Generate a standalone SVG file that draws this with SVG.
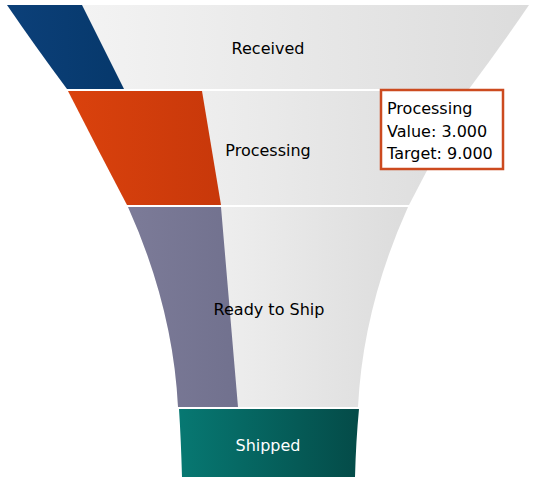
<svg xmlns="http://www.w3.org/2000/svg" width="542" height="493" viewBox="0 0 542 493">
<defs>
<linearGradient id="gLight" x1="0" y1="0" x2="1" y2="0">
<stop offset="0" stop-color="#f7f7f7"/>
<stop offset="1" stop-color="#dcdcdc"/>
</linearGradient>
<linearGradient id="gBlue" x1="0" y1="0" x2="1" y2="0">
<stop offset="0" stop-color="#0c4079"/>
<stop offset="1" stop-color="#06386b"/>
</linearGradient>
<linearGradient id="gOrange" x1="0" y1="0" x2="1" y2="0">
<stop offset="0" stop-color="#da420d"/>
<stop offset="1" stop-color="#c8380a"/>
</linearGradient>
<linearGradient id="gPurple" x1="0" y1="0" x2="1" y2="0">
<stop offset="0" stop-color="#7c7b98"/>
<stop offset="1" stop-color="#71718e"/>
</linearGradient>
<linearGradient id="gTeal" x1="0" y1="0" x2="1" y2="0">
<stop offset="0" stop-color="#077872"/>
<stop offset="1" stop-color="#044b48"/>
</linearGradient>
</defs>
<style>
.lbl{font-family:"DejaVu Sans","Verdana",sans-serif;font-size:16px;fill:#000;text-anchor:middle}
.tip{font-family:"DejaVu Sans","Verdana",sans-serif;font-size:16px;fill:#000}
</style>
<g id="received">
<path d="M7 5 Q35 46 67 89 L469 89 Q501 46 529 5 Z" fill="url(#gLight)"/>
<path d="M7 5 Q35 46 67 89 L124 89 L82 5 Z" fill="url(#gBlue)"/>
<text class="lbl" x="268" y="54">Received</text>
</g>
<g id="processing">
<path d="M68 91 Q97 148 127 205 L409 205 Q439 148 468 91 Z" fill="url(#gLight)"/>
<path d="M68 91 Q97 148 127 205 L221 205 L202 91 Z" fill="url(#gOrange)"/>
<text class="lbl" x="268" y="156">Processing</text>
</g>
<g id="ready">
<path d="M128 207 Q173 307 178 407 L358 407 Q363 307 408 207 Z" fill="url(#gLight)"/>
<path d="M128 207 Q173 307 178 407 L238 407 L221 207 Z" fill="url(#gPurple)"/>
<text class="lbl" x="269" y="315">Ready to Ship</text>
</g>
<g id="shipped">
<path d="M179 409 Q181 440 182 477 L355 477 Q356 440 359 409 Z" fill="url(#gTeal)"/>
<text class="lbl" x="268" y="451" style="fill:#fff">Shipped</text>
</g>
<g id="connectors"/>
<g id="tooltip">
<rect x="381" y="90" width="122" height="79" fill="#fff" stroke="#cc4a1f" stroke-width="2.5"/>
<text class="tip" x="387" y="114">Processing</text>
<text class="tip" x="387" y="137">Value: 3.000</text>
<text class="tip" x="387" y="159">Target: 9.000</text>
</g>
</svg>
